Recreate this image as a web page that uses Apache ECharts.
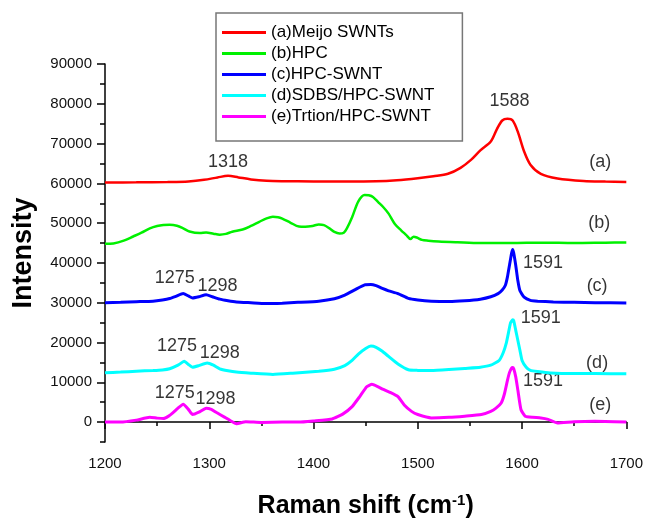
<!DOCTYPE html>
<html>
<head>
<meta charset="utf-8">
<script src="https://cdn.jsdelivr.net/npm/echarts@6/dist/echarts.min.js"></script>
<style>
  html, body { margin: 0; padding: 0; background: #fff; }
  #chart { width: 646px; height: 524px; }
</style>
</head>
<body>
<div id="chart"></div>
<script>
// Raman spectra
var seriesNames = ['(a)Meijo SWNTs', '(b)HPC', '(c)HPC-SWNT', '(d)SDBS/HPC-SWNT', '(e)Trtion/HPC-SWNT']
var seriesColors = ['#ff0000', '#00f000', '#0000ff', '#00ffff', '#ff00ff']

var shiftA = [1200, 1230, 1260, 1280, 1295, 1308, 1318, 1328, 1340, 1355, 1370, 1400, 1430, 1460, 1480, 1500, 1515, 1529, 1541, 1551, 1560, 1570, 1576, 1581, 1586, 1591, 1596, 1602, 1608, 1618, 1634, 1659, 1680, 1700]
var intA = [60200, 60250, 60350, 60500, 60900, 61500, 61900, 61500, 61000, 60650, 60550, 60500, 60500, 60550, 60800, 61300, 61800, 62400, 63900, 65900, 68300, 70500, 73700, 75800, 76250, 75800, 72900, 68000, 64700, 62400, 61250, 60600, 60450, 60370]

var shiftB = [1200, 1208, 1218, 1227, 1235, 1243, 1250, 1256, 1262, 1269, 1275, 1281, 1291, 1297, 1304, 1310, 1316, 1322, 1332, 1340, 1348, 1355, 1361, 1366, 1370, 1378, 1386, 1392, 1399, 1405, 1410, 1415, 1420, 1425, 1429, 1432, 1437, 1443, 1449, 1453, 1457, 1462, 1467, 1472, 1478, 1484, 1489, 1493, 1496, 1499, 1504, 1510, 1520, 1538, 1560, 1589, 1620, 1650, 1680, 1700]
var intB = [44800, 44900, 45600, 46650, 47600, 48700, 49300, 49550, 49600, 49350, 48700, 47900, 47500, 47650, 47350, 47100, 47300, 47850, 48400, 49300, 50350, 51200, 51600, 51500, 51150, 50100, 49150, 49100, 49300, 49650, 49500, 48750, 47800, 47400, 47600, 48700, 51500, 55500, 57100, 57000, 56600, 55300, 54000, 52400, 49800, 48200, 47000, 46000, 46600, 46400, 45800, 45600, 45400, 45200, 45000, 45000, 45100, 45000, 45100, 45150]

var shiftC = [1200, 1215, 1230, 1246, 1255, 1262, 1268, 1275, 1280, 1284, 1290, 1297, 1303, 1310, 1318, 1326, 1340, 1354, 1370, 1385, 1405, 1420, 1430, 1440, 1449, 1455, 1460, 1466, 1472, 1481, 1491, 1500, 1513, 1530, 1545, 1560, 1570, 1577, 1581, 1584, 1586, 1588, 1590, 1591, 1592, 1594, 1596, 1598, 1602, 1608, 1615, 1630, 1650, 1670, 1700]
var intC = [30000, 30100, 30250, 30400, 30700, 31050, 31600, 32300, 31700, 31200, 31500, 32000, 31500, 30900, 30500, 30200, 30000, 29800, 29900, 30100, 30400, 31000, 31900, 33300, 34500, 34600, 34300, 33600, 33000, 32300, 31100, 30700, 30400, 30300, 30500, 30900, 31500, 32300, 33200, 34400, 36500, 39500, 42500, 43400, 42500, 39300, 35500, 33000, 31400, 30600, 30400, 30200, 30100, 30000, 29950]

var shiftD = [1200, 1215, 1230, 1246, 1255, 1262, 1270, 1276, 1280, 1284, 1290, 1298, 1304, 1310, 1318, 1326, 1340, 1361, 1380, 1405, 1420, 1430, 1437, 1443, 1450, 1455, 1460, 1466, 1472, 1481, 1491, 1500, 1513, 1530, 1545, 1560, 1570, 1578, 1582, 1585, 1587, 1589, 1591, 1592, 1594, 1596, 1598, 1600, 1604, 1608, 1615, 1627, 1650, 1670, 1700]
var intD = [12400, 12570, 12800, 12960, 13100, 13400, 14300, 15300, 14500, 13800, 14200, 14850, 14300, 13400, 12900, 12570, 12300, 11980, 12300, 12800, 13300, 14200, 15500, 17100, 18500, 19100, 18800, 17800, 16500, 14600, 13150, 13000, 12950, 13200, 13500, 13800, 14300, 15500, 17500, 20000, 22500, 25000, 25700, 25500, 23000, 20500, 18000, 15500, 13800, 13000, 12700, 12350, 12200, 12200, 12150]

var shiftE = [1200, 1215, 1230, 1243, 1250, 1256, 1261, 1265, 1270, 1275, 1280, 1284, 1290, 1297, 1302, 1307, 1315, 1320, 1326, 1335, 1350, 1370, 1386, 1400, 1418, 1428, 1437, 1444, 1451, 1456, 1461, 1467, 1474, 1481, 1487, 1494, 1500, 1513, 1530, 1545, 1561, 1570, 1575, 1580, 1583, 1586, 1588, 1590, 1591, 1592, 1594, 1596, 1599, 1603, 1610, 1618, 1625, 1634, 1650, 1670, 1700]
var intE = [0, 0, 500, 1200, 1000, 900, 1500, 2300, 3500, 4500, 3200, 1900, 2500, 3500, 3200, 2400, 1200, 400, -400, 100, -100, 0, 0, 300, 800, 2000, 3900, 6300, 8900, 9500, 9000, 8200, 7400, 6400, 4300, 2700, 1900, 1050, 1200, 1500, 1900, 2700, 3500, 4800, 7000, 10500, 12500, 13600, 13700, 13400, 11300, 8000, 3100, 1500, 1200, 1050, 700, -200, 100, 200, 0]

// peak annotations and curve tags (placed in data coordinates)
var noteTexts = ['1318', '1588', '(a)', '(b)', '1275', '1298', '1591', '(c)', '1275', '1298', '1591', '(d)', '1275', '1298', '1591', '(e)']
var noteShift = [1318, 1588, 1675, 1674, 1267, 1308, 1620, 1672, 1269, 1310, 1618, 1672, 1267, 1306, 1620, 1675]
var noteInt = [65400, 80800, 65400, 50100, 36300, 34300, 40100, 34300, 19200, 17450, 26100, 14900, 7200, 5750, 10200, 4300]

var yMajor = [0, 10000, 20000, 30000, 40000, 50000, 60000, 70000, 80000, 90000]

var FONT = 'Liberation Sans, Arial, sans-serif'

function pairs(xs, ys) {
  var out = []
  for (var i = 0; i < xs.length; i++) out.push([xs[i], ys[i]])
  return out
}

var allShift = [shiftA, shiftB, shiftC, shiftD, shiftE]
var allInt = [intA, intB, intC, intD, intE]

var series = []
for (var k = 0; k < 5; k++) {
  series.push({
    name: seriesNames[k],
    type: 'line',
    data: pairs(allShift[k], allInt[k]),
    showSymbol: false,
    smooth: k < 2 ? 0.3 : 0.15,
    color: seriesColors[k],
    lineStyle: { width: k < 2 ? 2.5 : 3, color: seriesColors[k] },
    animation: false
  })
}

var notes = []
for (var j = 0; j < noteTexts.length; j++) {
  notes.push({ value: [noteShift[j], noteInt[j]], name: noteTexts[j] })
}
series.push({
  name: 'notes',
  type: 'scatter',
  data: notes,
  symbolSize: 1,
  itemStyle: { color: 'transparent' },
  silent: true,
  animation: false,
  label: {
    show: true,
    position: 'inside',
    formatter: function (p) { return p.name },
    color: '#000',
    fontSize: 18,
    fontFamily: FONT
  }
})

var option = {
  backgroundColor: '#fff',
  animation: false,
  grid: { left: 105, right: 16, top: 64, bottom: 74.5 },
  legend: {
    data: seriesNames,
    orient: 'vertical',
    left: 216,
    top: 13,
    padding: [11, 28, 16, 6],
    itemGap: 4,
    itemWidth: 44,
    itemHeight: 3,
    icon: 'rect',
    borderColor: '#777',
    borderWidth: 1.5,
    borderRadius: 0,
    textStyle: { fontSize: 17, color: '#000', fontFamily: FONT }
  },
  xAxis: {
    type: 'value',
    min: 1200,
    max: 1700,
    interval: 100,
    name: 'Raman shift (cm{sup|-1})',
    nameLocation: 'middle',
    nameGap: 51,
    nameTextStyle: {
      fontSize: 25, fontWeight: 'bold', color: '#000', fontFamily: FONT,
      rich: { sup: { fontSize: 15, fontWeight: 'bold', color: '#000', fontFamily: FONT, verticalAlign: 'top', padding: [0, 0, 12, 0] } }
    },
    axisLine: { lineStyle: { color: '#000', width: 1.5 } },
    axisTick: { length: 7, lineStyle: { color: '#000', width: 1.5 } },
    minorTick: { show: true, splitNumber: 2, length: 4, lineStyle: { color: '#000', width: 1.5 } },
    axisLabel: { fontSize: 15, color: '#111', margin: 14, fontFamily: FONT, formatter: function (v) { return String(v) } },
    splitLine: { show: false }
  },
  yAxis: [{
    type: 'value',
    min: -5000,
    max: 90000,
    interval: 5000,
    name: 'Intensity',
    nameLocation: 'middle',
    nameRotate: 90,
    nameGap: 68,
    nameTextStyle: { fontSize: 27, fontWeight: 'bold', color: '#000', fontFamily: FONT },
    axisLine: { onZero: false, lineStyle: { color: '#000', width: 1.5 } },
    axisTick: { length: 5, lineStyle: { color: '#000', width: 1.5 } },
    axisLabel: {
      fontSize: 15, color: '#111', margin: 13, fontFamily: FONT,
      formatter: function (v) { return (v >= 0 && v % 10000 === 0) ? String(v) : '' }
    },
    splitLine: { show: false }
  }, {
    type: 'value',
    min: -5000,
    max: 90000,
    interval: 5000,
    position: 'left',
    axisLine: { show: false },
    axisTick: { show: true, customValues: yMajor, length: 8, lineStyle: { color: '#000', width: 1.5 } },
    axisLabel: { show: false },
    splitLine: { show: false }
  }],
  series: series
}

var chart = echarts.init(document.getElementById('chart'))
chart.setOption(option)
</script>
</body>
</html>
